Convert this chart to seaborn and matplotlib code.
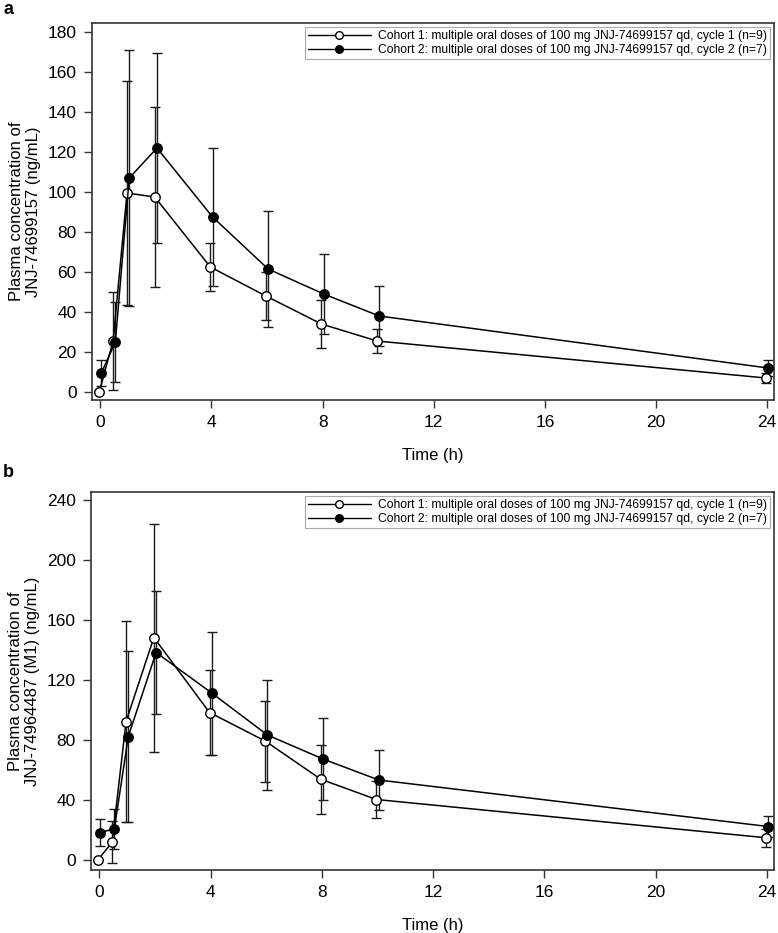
import numpy as np
import pandas as pd
import seaborn as sns
import matplotlib.pyplot as plt
from matplotlib.lines import Line2D

# tempos nominais (h)
times = [0, 0.5, 1, 2, 4, 6, 8, 10, 24]

# painel a: JNJ-74699157
a_c1_mean = [0, 25.5, 99.5, 97.5, 62.5, 48, 34, 25.5, 7]
a_c1_sd = [0, 24.5, 56, 45, 12, 12, 12, 6, 2.5]
a_c2_mean = [9.5, 25, 107, 122, 87.5, 61.5, 49, 38, 12]
a_c2_sd = [6.5, 20, 64, 47.5, 34.5, 29, 20, 15, 4]

# painel b: JNJ-74964487 (M1)
b_c1_mean = [0, 11.5, 92, 148, 98, 79, 53.5, 40, 14.5]
b_c1_sd = [0, 14, 67, 76, 28.5, 27, 23, 12.5, 6]
b_c2_mean = [18, 20.5, 82, 138, 111, 83, 67, 53, 22]
b_c2_sd = [9, 13.5, 57, 41, 41, 36.5, 27.5, 20, 7]

labels = ['Cohort 1: multiple oral doses of 100 mg JNJ-74699157 qd, cycle 1 (n=9)',
          'Cohort 2: multiple oral doses of 100 mg JNJ-74699157 qd, cycle 2 (n=7)']

sns.set_style('ticks')
plt.rcParams['font.family'] = ['Liberation Sans', 'DejaVu Sans']
plt.rcParams['text.color'] = 'black'
plt.rcParams['axes.labelcolor'] = 'black'
plt.rcParams['xtick.color'] = 'black'
plt.rcParams['ytick.color'] = 'black'

fig = plt.figure(figsize=(7.78, 9.33), dpi=100)
W, H = 778, 933
ax_a = fig.add_axes([92 / W, 1 - 400 / H, 682 / W, 377 / H])
ax_b = fig.add_axes([91 / W, 1 - 870 / H, 683 / W, 378 / H])

dodge = 0.04


def painel(ax, m1, s1, m2, s2, ylim, yticks, ylabel):
    df = pd.DataFrame({
        'tempo': list(np.array(times) - dodge) + list(np.array(times) + dodge),
        'conc': m1 + m2,
        'sd': s1 + s2,
        'grupo': [labels[0]] * len(times) + [labels[1]] * len(times),
    })
    for lab, face in zip(labels, ['white', 'black']):
        d = df[df.grupo == lab]
        ax.errorbar(d.tempo, d.conc, yerr=d.sd, fmt='none', ecolor='#1a1a1a',
                    elinewidth=1.0, capsize=3.8, capthick=1.0, zorder=2)
        sns.lineplot(data=d, x='tempo', y='conc', ax=ax, color='black', lw=1.1,
                     marker='o', markersize=6.8, markerfacecolor=face,
                     markeredgecolor='black', markeredgewidth=1.0, zorder=3,
                     legend=False)
    ax.set_xlim(-0.3, 24.25)
    ax.set_ylim(*ylim)
    ax.set_xticks([0, 4, 8, 12, 16, 20, 24])
    ax.set_yticks(yticks)
    ax.tick_params(direction='out', length=6, width=1, color='#333333',
                   labelsize=12.5, pad=5)
    for s in ax.spines.values():
        s.set_color('#333333')
        s.set_linewidth(1.2)
    ax.set_xlabel('Time (h)', fontsize=12, labelpad=13)
    ax.set_ylabel(ylabel, fontsize=12, labelpad=4.5)
    handles = [Line2D([], [], color='black', lw=1, marker='o', markersize=5.5,
                      markerfacecolor=f, markeredgecolor='black')
               for f in ['white', 'black']]
    leg = ax.legend(handles, labels, loc='upper right', fontsize=8.7,
                    handlelength=5.2, borderaxespad=0.35, borderpad=0.25,
                    labelspacing=0.15, handletextpad=0.6, fancybox=False,
                    framealpha=1)
    leg.get_frame().set_edgecolor('#aaaaaa')
    leg.get_frame().set_linewidth(0.8)


painel(ax_a, a_c1_mean, a_c1_sd, a_c2_mean, a_c2_sd, (-4, 184.5),
       [0, 20, 40, 60, 80, 100, 120, 140, 160, 180],
       'Plasma concentration of\nJNJ-74699157 (ng/mL)')
painel(ax_b, b_c1_mean, b_c1_sd, b_c2_mean, b_c2_sd, (-7, 245),
       [0, 40, 80, 120, 160, 200, 240],
       'Plasma concentration of\nJNJ-74964487 (M1) (ng/mL)')

fig.text(3 / W, 1 - 10 / H, 'a', fontsize=13, fontweight='bold', va='center')
fig.text(3 / W, 1 - 473 / H, 'b', fontsize=13, fontweight='bold', va='center')

fig.savefig('out.png', dpi=100)
